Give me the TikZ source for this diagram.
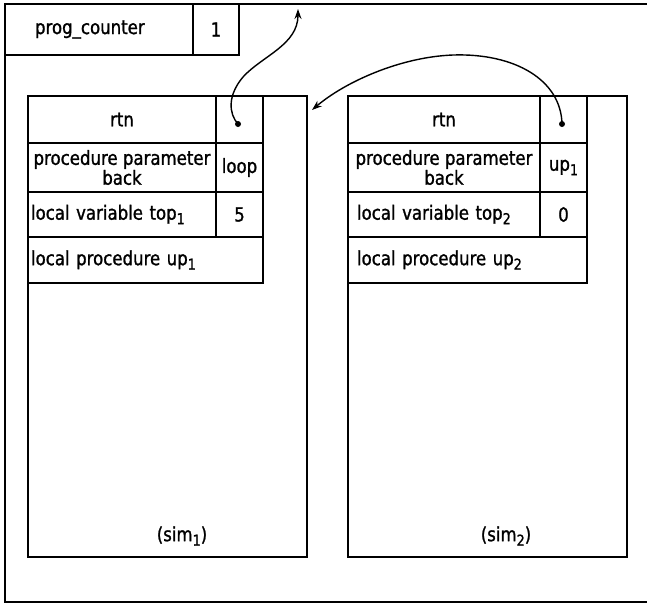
\documentclass[tikz,border=0pt]{standalone}
\usepackage{fontspec}
\setmainfont{DejaVu Sans}[FakeStretch=0.85, FakeBold=1.2]
\usetikzlibrary{arrows.meta}
% lowered index digits, as in top_1 or up_2
\newcommand\lowidx[1]{\raisebox{-4.5pt}{\fontsize{15}{15}\selectfont #1}}

\begin{document}
\begin{tikzpicture}[x=1pt, y=-1pt,
  every node/.style={font=\fontsize{19.5}{19.5}\selectfont},
  box/.style={draw, line width=2pt, anchor=north west, inner sep=0pt, outer sep=0pt},
  frame/.style={draw, line width=2pt},
  ptr/.style={circle, fill, inner sep=0pt, minimum size=6pt},
  link/.style={line width=1.4pt, -{Stealth[length=10pt, width=7pt]}}]
\useasboundingbox (0,0) rectangle (647,603);

% outer storage area (runs off on the right)
\draw[frame] (655,4) -- (5,4) -- (5,602) -- (655,602);

% program counter
\node[box, minimum height=51pt, text width=128pt, inner xsep=30pt, align=left] (pcname) at (5,4) {prog\_counter};
\node[box, minimum width=46pt, minimum height=51pt] (pcval) at (193,4) {1};
\coordinate (pctop) at (298,9);

% activation record sim_1
\node[box, minimum width=279pt, minimum height=461pt] (s1frame) at (28,96) {};
\node[box, minimum width=188pt, minimum height=47pt] (s1rtn) at (28,96) {rtn};
\node[box, minimum width=47pt, minimum height=47pt] (s1rtnv) at (216,96) {};
\node[box, minimum width=188pt, minimum height=49pt, align=center,
      font=\fontsize{19.5}{17}\selectfont] (s1par) at (28,143) {procedure parameter\\back};
\node[box, minimum width=47pt, minimum height=49pt] (s1parv) at (216,143) {loop};
\node[box, minimum height=45pt, text width=182pt, inner xsep=3pt, align=left] (s1var) at (28,192) {local variable top\lowidx{1}};
\node[box, minimum width=47pt, minimum height=45pt] (s1varv) at (216,192) {5};
\node[box, minimum height=46pt, text width=229pt, inner xsep=3pt, align=left] (s1proc) at (28,237) {local procedure up\lowidx{1}};
\node (s1name) at (182,536) {(sim\lowidx{1})};
\node[ptr] (s1ptr) at (238,124) {};
\coordinate (s1in) at (312,110);

% activation record sim_2
\node[box, minimum width=279pt, minimum height=461pt] (s2frame) at (348,96) {};
\node[box, minimum width=192pt, minimum height=47pt] (s2rtn) at (348,96) {rtn};
\node[box, minimum width=47pt, minimum height=47pt] (s2rtnv) at (540,96) {};
\node[box, minimum width=192pt, minimum height=49pt, align=center,
      font=\fontsize{19.5}{17}\selectfont] (s2par) at (348,143) {procedure parameter\\back};
\node[box, minimum width=47pt, minimum height=49pt] (s2parv) at (540,143) {up\lowidx{1}};
\node[box, minimum height=45pt, text width=174pt, inner xsep=9pt, align=left] (s2var) at (348,192) {local variable top\lowidx{2}};
\node[box, minimum width=47pt, minimum height=45pt] (s2varv) at (540,192) {0};
\node[box, minimum height=46pt, text width=221pt, inner xsep=9pt, align=left] (s2proc) at (348,237) {local procedure up\lowidx{2}};
\node (s2name) at (506,536) {(sim\lowidx{2})};
\node[ptr] (s2ptr) at (562,124) {};

% return links
\draw[link] (s1ptr.center) .. controls (229,114) and (227,96) .. (243,77)
            .. controls (262,56) and (298,45) .. (pctop);
\draw[link] (s2ptr.center) .. controls (561,80) and (515,53) .. (453,55)
            .. controls (400,57) and (345,82) .. (s1in);
\end{tikzpicture}
\end{document}
